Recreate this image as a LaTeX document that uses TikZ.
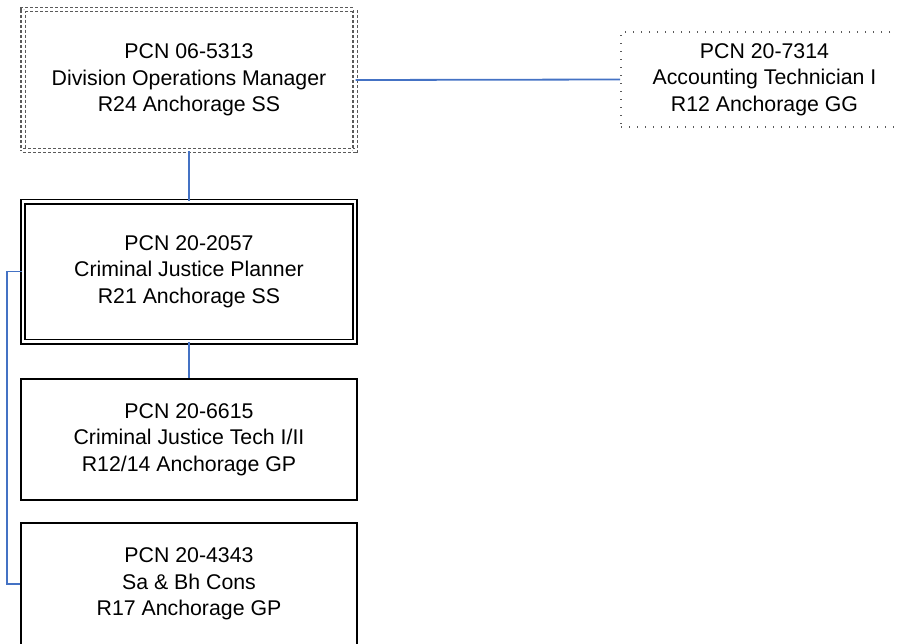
\documentclass[tikz,border=0pt]{standalone}
\usepackage{fontspec}
\setmainfont{Liberation Sans}
\usepackage{xcolor}
\definecolor{linkblue}{HTML}{4472C4}
\definecolor{dashgray}{HTML}{5A5A5A}

\begin{document}
\begin{tikzpicture}[x=1pt,y=-1pt,
        post/.style={align=center,inner sep=0pt,font=\fontsize{21.3}{26.3}\selectfont},
        link/.style={draw=linkblue,line width=1.8pt}]
    \useasboundingbox (0,0) rectangle (897,643);

    \node[post,draw=dashgray,line width=1.2pt,dash pattern=on 3pt off 2pt,double,double distance=3pt,
          minimum width=332pt,minimum height=141pt] (dom) at (189,80)
          {PCN 06-5313\\Division Operations Manager\\R24 Anchorage SS};
    \node[post,draw=dashgray,line width=1.6pt,dash pattern=on 1.4pt off 6.6pt,
          minimum width=287pt,minimum height=95pt] (act) at (764.5,79.5)
          {PCN 20-7314\\Accounting Technician I\\R12 Anchorage GG};

    \node[post,draw,line width=1.6pt,double,double distance=2.8pt,
          minimum width=332pt,minimum height=140pt] (cjp) at (189,271.5)
          {PCN 20-2057\\Criminal Justice Planner\\R21 Anchorage SS};
    \node[post,draw,line width=2pt,minimum width=336.5pt,minimum height=121pt] (cjt) at (189,439.5)
          {PCN 20-6615\\Criminal Justice Tech I/II\\R12/14 Anchorage GP};
    \node[post,draw,line width=2pt,minimum width=336.5pt,minimum height=122pt] (sbc) at (189,584)
          {PCN 20-4343\\Sa \& Bh Cons\\R17 Anchorage GP};

    \draw[link] (dom.east) -- (act.west);
    \draw[link] (dom.south) -- (cjp.north);
    \draw[link] (cjp.south) -- (cjt.north);
    \draw[link] (cjp.west) -- ++(-15,0) |- (sbc.west);
\end{tikzpicture}
\end{document}
